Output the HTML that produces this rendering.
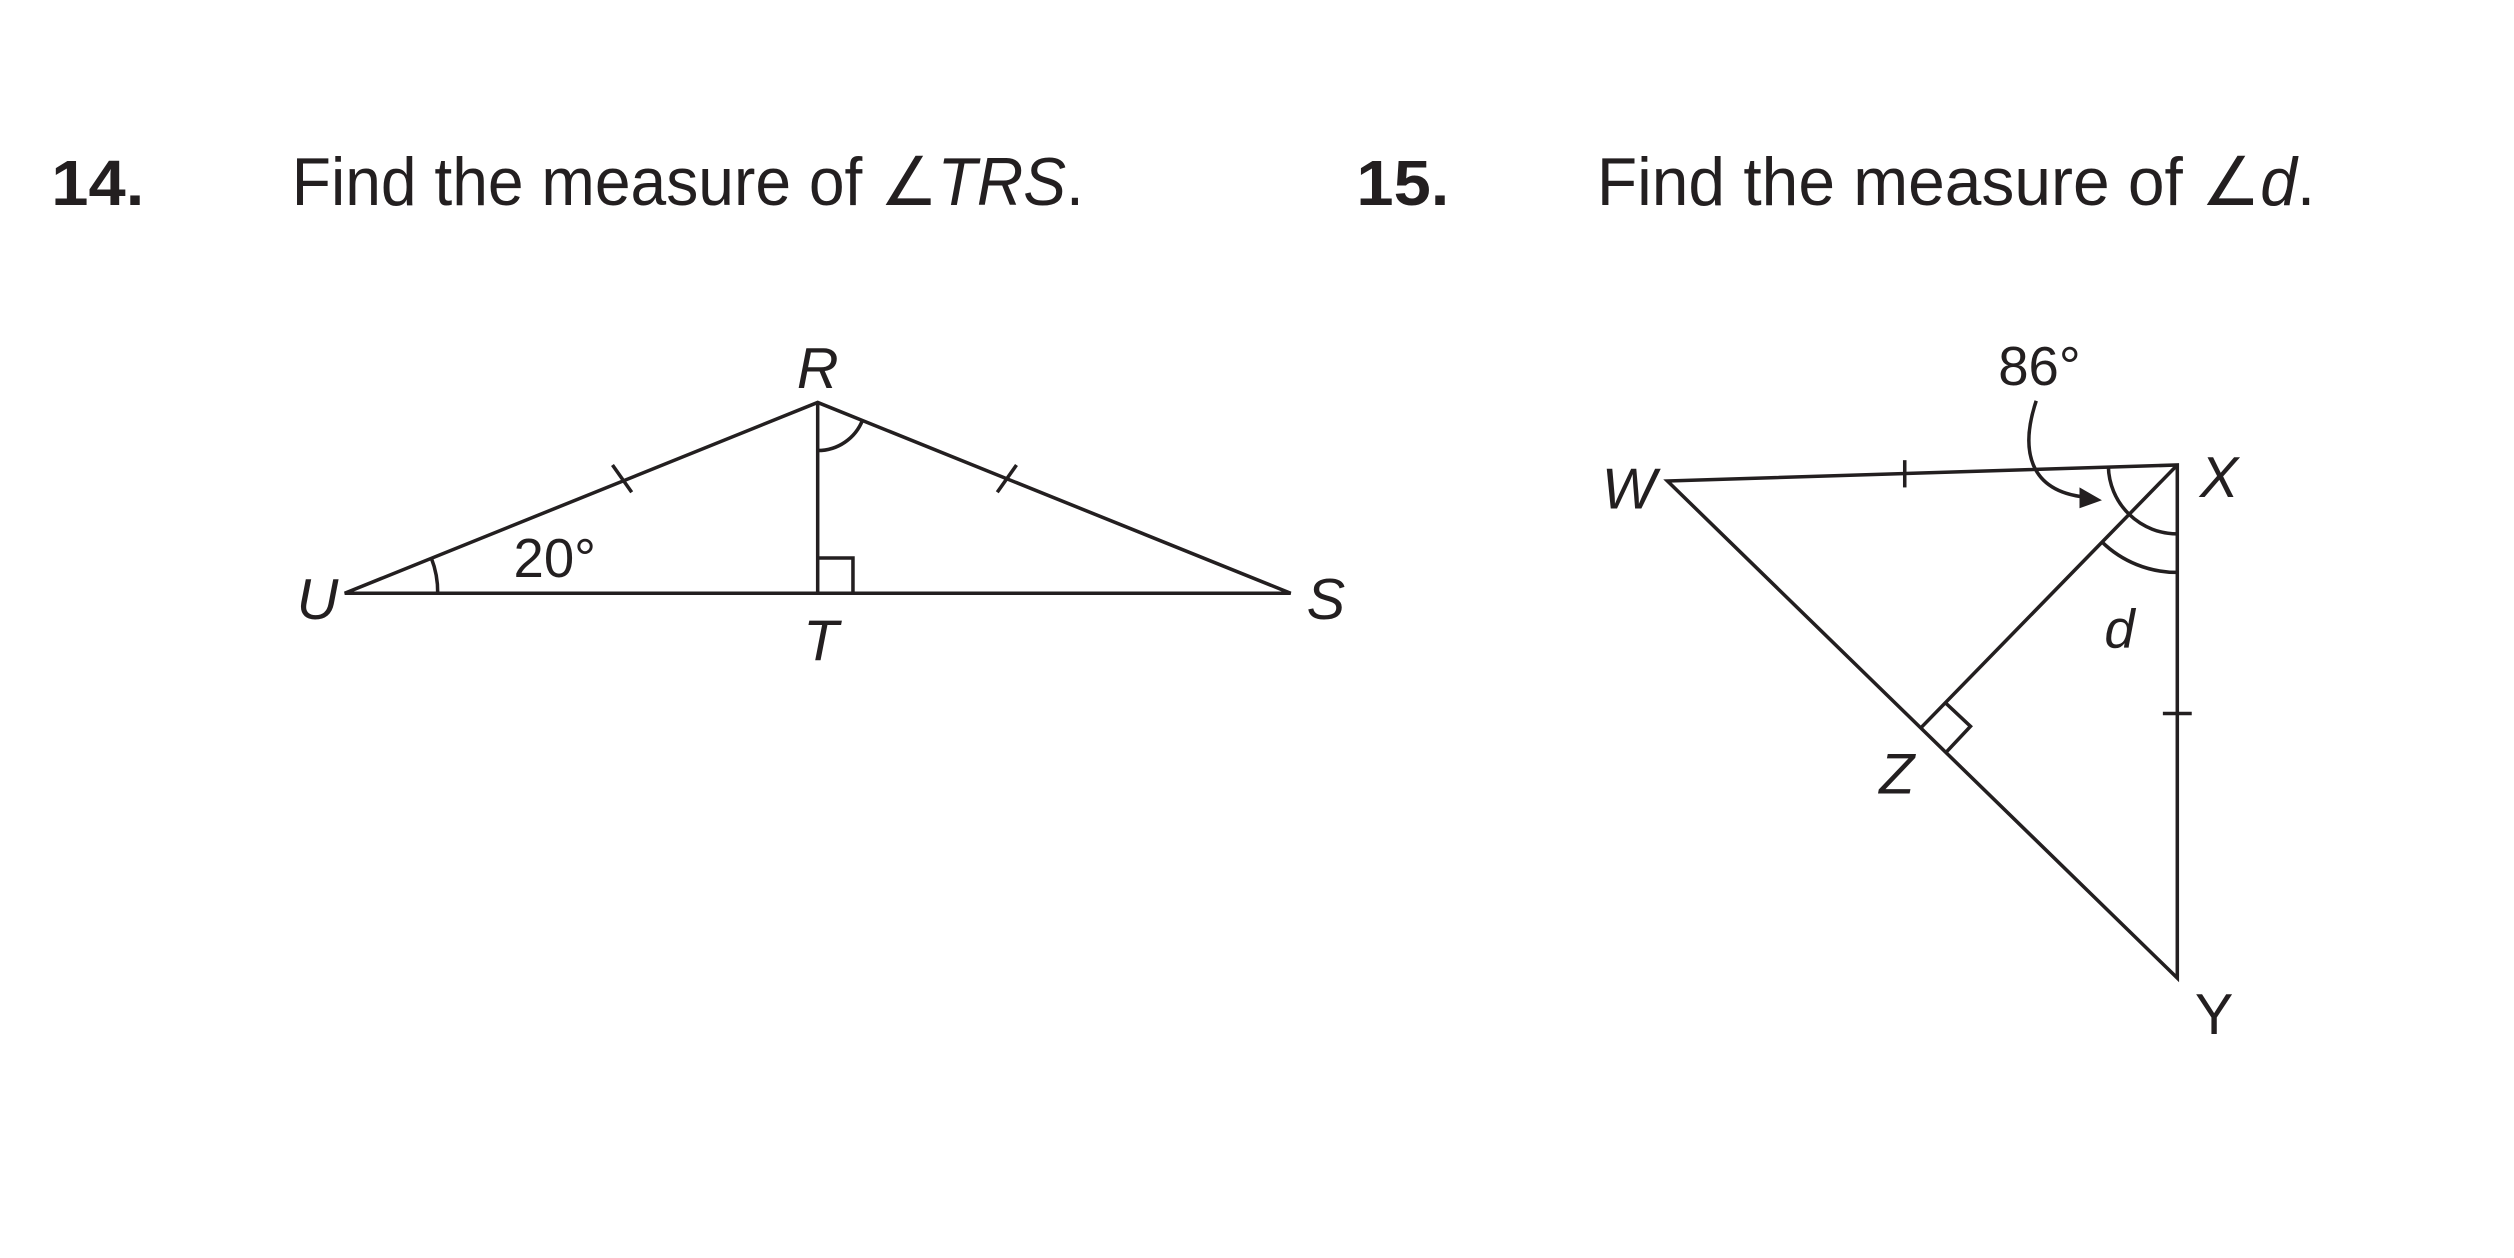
<!DOCTYPE html>
<html><head><style>html,body{margin:0;padding:0;background:#fff;}svg{display:block}</style></head>
<body>
<svg width="2514" height="1258" viewBox="0 0 1568 784.6" preserveAspectRatio="none" xmlns="http://www.w3.org/2000/svg" font-family="Liberation Sans, sans-serif" fill="#231f20">
<rect width="1568" height="785" fill="#fff"/>
<text x="32" y="128" font-size="40" font-weight="bold" textLength="58" lengthAdjust="spacingAndGlyphs">14.</text>
<text x="182" y="128" font-size="42" textLength="494" lengthAdjust="spacingAndGlyphs">Find the measure of ∠<tspan font-style="italic">TRS</tspan>.</text>
<text x="846" y="128" font-size="40" font-weight="bold" textLength="58" lengthAdjust="spacingAndGlyphs">15.</text>
<text x="996" y="128" font-size="42" textLength="448" lengthAdjust="spacingAndGlyphs">Find the measure of ∠<tspan font-style="italic">d</tspan>.</text>

<g stroke="#231f20" stroke-width="2.2" fill="none">
<!-- fig 14 -->
<polygon points="215,370 510,251 805,370"/>
<line x1="510" y1="251" x2="510" y2="370"/>
<polyline points="510,348 532,348 532,370"/>
<line x1="382" y1="290" x2="394" y2="307"/>
<line x1="622" y1="307" x2="634" y2="290"/>
<path d="M 269,348 A 58 58 0 0 1 273,370"/>
<path d="M 510,281 A 30 30 0 0 0 538,262"/>
<!-- fig 15 -->
<polygon points="1040,300 1358,290 1358,610"/>
<line x1="1358" y1="290" x2="1198" y2="454"/>
<polyline points="1213,438 1229,453 1214,469"/>
<line x1="1188" y1="287" x2="1188" y2="304"/>
<line x1="1349" y1="445" x2="1367" y2="445"/>
<path d="M 1315,291 A 43 43 0 0 0 1358,333"/>
<path d="M 1311,338 A 67 67 0 0 0 1358,357"/>
<path d="M 1270,250 C 1260,280 1265,306 1300,310"/>
</g>
<polygon points="1311,312 1297,304 1297,317" fill="#231f20"/>

<g font-size="36" font-style="italic" text-anchor="middle">
<text x="510" y="242">R</text>
<text x="198" y="386">U</text>
<text x="512" y="412">T</text>
<text x="827" y="386">S</text>
<text x="1016" y="317">W</text>
<text x="1384" y="310">X</text>
<text x="1183" y="495">Z</text>
<text x="1322" y="404" font-size="34">d</text>
</g>
<g font-size="36" text-anchor="middle">
<text x="1381" y="645">Y</text>
<text x="346" y="360" font-size="34">20°</text>
<text x="1272" y="240" font-size="34">86°</text>
</g>
</svg>
</body></html>
